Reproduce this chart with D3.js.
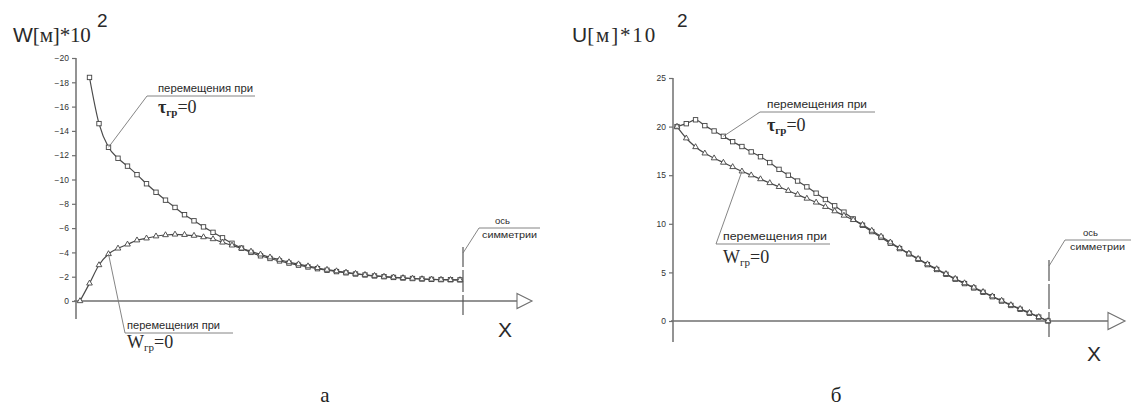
<!DOCTYPE html>
<html>
<head>
<meta charset="utf-8">
<script src="https://cdn.jsdelivr.net/npm/d3@7/dist/d3.min.js"></script>
<style>
	body { margin: 0; background: #fff; }
	svg { display: block; }
</style>
</head>
<body>
<svg id="chart" width="1131" height="406"></svg>
<script>
;( function() {

	"use strict";

	//panel a: W displacement (plotted as negative values, axis goes up to -20)
	var leftTicks = [ -20, -18, -16, -14, -12, -10, -8, -6, -4, -2, 0 ];
	var leftTau = [ null, -18.4, -14.6, -12.65, -11.75, -11.1, -10.4, -9.65, -8.95, -8.3, -7.7,
		-7.1, -6.6, -6.1, -5.65, -5.2, -4.75, -4.35, -4.0, -3.72, -3.5,
		-3.3, -3.12, -2.95, -2.8, -2.66, -2.53, -2.42, -2.32, -2.22, -2.14,
		-2.06, -2.0, -1.94, -1.89, -1.85, -1.81, -1.78, -1.76, -1.75, -1.74 ];
	var leftW = [ 0, -1.45, -2.96, -3.87, -4.33, -4.66, -5.0, -5.16, -5.33, -5.43, -5.48,
		-5.45, -5.38, -5.26, -5.1, -4.82, -4.58, -4.33, -4.08, -3.84, -3.6,
		-3.4, -3.2, -3.03, -2.87, -2.72, -2.58, -2.46, -2.35, -2.25, -2.16,
		-2.08, -2.01, -1.95, -1.9, -1.85, -1.81, -1.78, -1.76, -1.74, -1.73 ];

	//panel б: U displacement
	var rightTicks = [ 0, 5, 10, 15, 20, 25 ];
	var rightTau = [ 20.0, 20.3, 20.7, 20.1, 19.55, 19.0, 18.45, 17.95, 17.4, 16.9, 16.3,
		15.6, 15.0, 14.4, 13.8, 13.15, 12.5, 11.85, 11.2, 10.5, 9.85,
		9.2, 8.6, 8.0, 7.45, 6.9, 6.35, 5.8, 5.3, 4.8, 4.3,
		3.85, 3.4, 2.95, 2.5, 2.05, 1.6, 1.2, 0.8, 0.4, 0 ];
	var rightW = [ 20.0, 18.8, 17.9, 17.25, 16.75, 16.3, 15.85, 15.4, 15.0, 14.6, 14.2,
		13.8, 13.4, 13.0, 12.6, 12.2, 11.75, 11.3, 10.85, 10.4, 9.9,
		9.3, 8.7, 8.1, 7.5, 6.95, 6.4, 5.85, 5.35, 4.85, 4.35,
		3.9, 3.45, 3.0, 2.55, 2.1, 1.65, 1.25, 0.85, 0.42, 0 ];

	var noteText = "перемещения при",
		lineColor = "#4a4a4a",
		axisColor = "#6f6f6f",
		textColor = "#2a2a2a";

	var svg = d3.select( "#chart" );

	var drawPanel = function( cfg ) {

		var g = svg.append( "g" ).attr( "class", "panel" );

		var x = d3.scaleLinear().domain( [ 0, cfg.tau.length - 1 ] ).range( cfg.xRange ),
			y = d3.scaleLinear().domain( cfg.yDomain ).range( cfg.yRange );

		//y axis with ticks
		var yAxis = d3.axisLeft( y )
			.tickValues( cfg.ticks )
			.tickFormat( d3.format( "d" ) )
			.tickSize( 4 )
			.tickPadding( 3 );
		var gAxis = g.append( "g" )
			.attr( "transform", "translate(" + cfg.axisX + ",0)" )
			.call( yAxis );
		gAxis.select( ".domain" ).remove();
		gAxis.selectAll( "line" ).attr( "stroke", axisColor ).attr( "stroke-width", 1.2 );
		gAxis.selectAll( "text" )
			.attr( "fill", "#333" )
			.style( "font-family", "Arial, 'Liberation Sans', sans-serif" )
			.style( "font-size", "8.5px" );

		//axis lines (the vertical one runs a bit below zero)
		g.append( "line" )
			.attr( "x1", cfg.axisX ).attr( "x2", cfg.axisX )
			.attr( "y1", y( cfg.ticks[ cfg.topTick ] ) ).attr( "y2", cfg.axisBottom )
			.attr( "stroke", axisColor ).attr( "stroke-width", 1.5 );
		g.append( "line" )
			.attr( "x1", cfg.axisX - 2 ).attr( "x2", cfg.arrowX )
			.attr( "y1", y( 0 ) ).attr( "y2", y( 0 ) )
			.attr( "stroke", axisColor ).attr( "stroke-width", 1.3 );
		//open arrow head
		var ay = y( 0 ), ah = cfg.arrowH / 2;
		g.append( "path" )
			.attr( "d", "M" + cfg.arrowX + "," + ( ay - ah ) + "L" + ( cfg.arrowX + cfg.arrowW ) + "," + ay + "L" + cfg.arrowX + "," + ( ay + ah ) + "Z" )
			.attr( "fill", "#fff" ).attr( "stroke", axisColor ).attr( "stroke-width", 1.1 );
		g.append( "text" )
			.attr( "x", cfg.xLabel[ 0 ] ).attr( "y", cfg.xLabel[ 1 ] )
			.attr( "fill", textColor )
			.style( "font-family", "Arial, 'Liberation Sans', sans-serif" )
			.style( "font-size", "21px" )
			.text( "X" );

		//symmetry axis
		var symX = x( cfg.tau.length - 1 ) + cfg.symOffset;
		g.append( "line" )
			.attr( "x1", symX ).attr( "x2", symX )
			.attr( "y1", cfg.symTop ).attr( "y2", cfg.symBottom )
			.attr( "stroke", "#555" ).attr( "stroke-width", 1.2 )
			.attr( "stroke-dasharray", cfg.symDash );
		g.append( "polyline" )
			.attr( "points", [ [ symX, cfg.symTop + 6 ], [ symX + 16, cfg.symShelf ], [ cfg.symShelfEnd, cfg.symShelf ] ].join( " " ) )
			.attr( "fill", "none" ).attr( "stroke", "#777" ).attr( "stroke-width", 0.9 );
		g.append( "text" )
			.attr( "x", cfg.symTextX + 13 ).attr( "y", cfg.symShelf - 4 )
			.attr( "fill", textColor )
			.style( "font-family", "Arial, 'Liberation Sans', sans-serif" )
			.style( "font-size", "9.5px" )
			.text( "ось" );
		g.append( "text" )
			.attr( "x", cfg.symTextX ).attr( "y", cfg.symShelf + 10 )
			.attr( "fill", textColor )
			.attr( "textLength", 55 ).attr( "lengthAdjust", "spacingAndGlyphs" )
			.style( "font-family", "Arial, 'Liberation Sans', sans-serif" )
			.style( "font-size", "9.5px" )
			.text( "симметрии" );

		//curves
		var line = d3.line()
			.defined( function( d ) { return d !== null; } )
			.x( function( d, i ) { return x( i ); } )
			.y( function( d ) { return y( d ); } )
			.curve( d3.curveMonotoneX );

		[ cfg.w, cfg.tau ].forEach( function( series ) {
			g.append( "path" )
				.datum( series )
				.attr( "d", line )
				.attr( "fill", "none" )
				.attr( "stroke", lineColor )
				.attr( "stroke-width", 1.2 );
		} );

		var pts = function( series ) {
			return series.map( function( d, i ) { return { i: i, v: d }; } )
				.filter( function( d ) { return d.v !== null; } );
		};

		//square markers
		g.append( "g" ).selectAll( "rect" )
			.data( pts( cfg.tau ) )
			.enter().append( "rect" )
				.attr( "x", function( d ) { return x( d.i ) - 2.2; } )
				.attr( "y", function( d ) { return y( d.v ) - 2.2; } )
				.attr( "width", 4.4 ).attr( "height", 4.4 )
				.attr( "fill", "#fff" )
				.attr( "stroke", "#444" ).attr( "stroke-width", 0.9 );

		//triangle markers
		var tri = d3.symbol().type( d3.symbolTriangle ).size( 14 );
		g.append( "g" ).selectAll( "path" )
			.data( pts( cfg.w ) )
			.enter().append( "path" )
				.attr( "d", tri )
				.attr( "transform", function( d ) { return "translate(" + x( d.i ) + "," + y( d.v ) + ")"; } )
				.attr( "fill", "#fff" )
				.attr( "stroke", "#444" ).attr( "stroke-width", 0.9 );

		//callouts
		cfg.notes.forEach( function( n ) {
			var px = x( n.index ), py = y( n.series[ n.index ] );
			g.append( "polyline" )
				.attr( "points", [ [ px, py ], [ n.shelfX, n.shelfY ], [ n.shelfEnd, n.shelfY ] ].join( " " ) )
				.attr( "fill", "none" ).attr( "stroke", "#777" ).attr( "stroke-width", 0.9 );
			g.append( "text" )
				.attr( "x", n.textX ).attr( "y", n.shelfY - 4 )
				.attr( "fill", textColor )
				.attr( "textLength", n.textLen ).attr( "lengthAdjust", "spacingAndGlyphs" )
				.style( "font-family", "Arial, 'Liberation Sans', sans-serif" )
				.style( "font-size", "10px" )
				.text( noteText );
			var t = g.append( "text" )
				.attr( "x", n.textX ).attr( "y", n.symBase )
				.attr( "fill", textColor )
				.style( "font-family", "'Liberation Serif', 'Times New Roman', serif" );
			t.append( "tspan" )
				.style( "font-size", "18px" )
				.style( "font-weight", n.bold ? "bold" : "normal" )
				.text( n.letter );
			t.append( "tspan" )
				.attr( "dy", 3 )
				.style( "font-size", "11px" )
				.style( "font-weight", n.bold ? "bold" : "normal" )
				.text( "гр" );
			t.append( "tspan" )
				.attr( "dy", -3 )
				.style( "font-size", "18px" )
				.text( "=0" );
		} );

		//title
		var title = g.append( "text" )
			.attr( "x", cfg.title[ 0 ] ).attr( "y", cfg.title[ 1 ] )
			.attr( "fill", textColor );
		title.append( "tspan" )
			.style( "font-family", "Arial, 'Liberation Sans', sans-serif" )
			.style( "font-size", "21px" )
			.text( cfg.titleLetter );
		title.append( "tspan" )
			.attr( "textLength", cfg.titleLen ).attr( "lengthAdjust", "spacing" )
			.style( "font-family", "'Liberation Serif', 'Times New Roman', serif" )
			.style( "font-size", "21px" )
			.text( "[м]*10" );
		g.append( "text" )
			.attr( "x", cfg.powX ).attr( "y", cfg.title[ 1 ] - 15 )
			.attr( "fill", textColor )
			.style( "font-family", "Arial, 'Liberation Sans', sans-serif" )
			.style( "font-size", "19px" )
			.text( "2" );

		//caption
		g.append( "text" )
			.attr( "x", cfg.caption[ 0 ] ).attr( "y", cfg.caption[ 1 ] )
			.attr( "text-anchor", "middle" )
			.attr( "fill", "#222" )
			.style( "font-family", "'Liberation Serif', 'Times New Roman', serif" )
			.style( "font-size", "21px" )
			.text( cfg.captionText );
	};

	drawPanel( {
		tau: leftTau, w: leftW, ticks: leftTicks, topTick: 0,
		xRange: [ 80, 460 ], yDomain: [ 0, -20 ], yRange: [ 301, 58 ],
		axisX: 76, axisBottom: 319,
		arrowX: 517, arrowW: 15, arrowH: 15,
		xLabel: [ 498, 337 ],
		symOffset: 3, symTop: 247, symBottom: 315, symDash: "20,3,22,3,40",
		symShelf: 228, symShelfEnd: 540, symTextX: 482,
		notes: [
			{ series: leftTau, index: 3, shelfX: 147, shelfY: 96, shelfEnd: 255, textX: 158, textLen: 95, symBase: 113, letter: "τ", bold: true },
			{ series: leftW, index: 3, shelfX: 125, shelfY: 333, shelfEnd: 233, textX: 127, textLen: 93, symBase: 348, letter: "W", bold: false }
		],
		title: [ 13, 42 ], titleLetter: "W", titleLen: 58, powX: 97,
		caption: [ 325, 402 ], captionText: "а"
	} );

	drawPanel( {
		tau: rightTau, w: rightW, ticks: rightTicks, topTick: 5,
		xRange: [ 677, 1048 ], yDomain: [ 0, 25 ], yRange: [ 321, 78 ],
		axisX: 673, axisBottom: 342,
		arrowX: 1108, arrowW: 17, arrowH: 17,
		xLabel: [ 1087, 361 ],
		symOffset: 1, symTop: 260, symBottom: 337, symDash: "21,3,25,3,40",
		symShelf: 240, symShelfEnd: 1131, symTextX: 1070,
		notes: [
			{ series: rightTau, index: 5, shelfX: 760, shelfY: 112, shelfEnd: 875, textX: 767, textLen: 100, symBase: 131, letter: "τ", bold: true },
			{ series: rightW, index: 7, shelfX: 716, shelfY: 244, shelfEnd: 830, textX: 723, textLen: 104, symBase: 263, letter: "W", bold: false }
		],
		title: [ 572, 42 ], titleLetter: "U", titleLen: 68, powX: 677,
		caption: [ 836, 402 ], captionText: "б"
	} );

})();
</script>
</body>
</html>
